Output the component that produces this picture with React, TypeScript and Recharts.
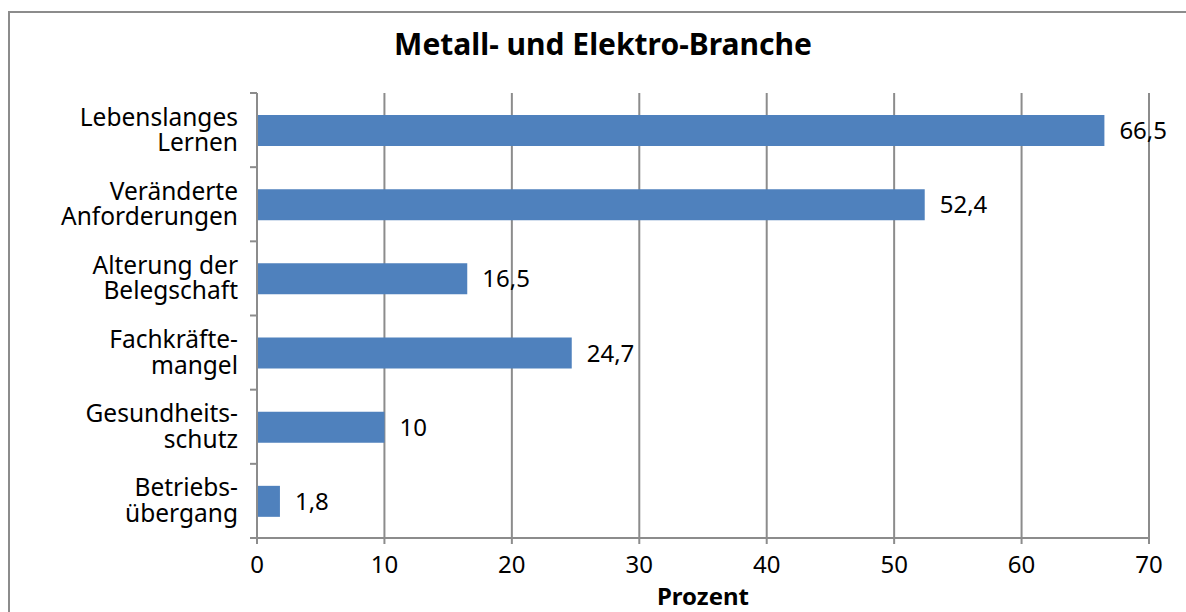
import { BarChart, Bar, XAxis, YAxis, CartesianGrid, LabelList } from "recharts";

const categories = [
  "Lebenslanges\nLernen",
  "Veränderte\nAnforderungen",
  "Alterung der\nBelegschaft",
  "Fachkräfte-\nmangel",
  "Gesundheits-\nschutz",
  "Betriebs-\nübergang",
];
const values = [66.5, 52.4, 16.5, 24.7, 10, 1.8];
const xTicks = [0, 10, 20, 30, 40, 50, 60, 70];

const data = categories.map((name, i) => ({ name, value: values[i] }));

const FONT = "'Noto Sans', 'Open Sans', sans-serif";
const GRID = "#8c8c8c";
const PLOT_TOP = 93;
const PLOT_BOTTOM = 538;
const BAND = (PLOT_BOTTOM - PLOT_TOP) / categories.length;

const CategoryTick = (props: any) => {
  const { x, y, payload, index } = props;
  const lines = String(payload.value).split("\n");
  const axisX = x + 8;
  return (
    <g>
      <line x1={axisX - 7} x2={axisX} y1={y - BAND / 2} y2={y - BAND / 2} stroke={GRID} strokeWidth={2} />
      {index === categories.length - 1 && (
        <line x1={axisX - 7} x2={axisX} y1={y + BAND / 2} y2={y + BAND / 2} stroke={GRID} strokeWidth={2} />
      )}
      <text x={x - 11} y={y} textAnchor="end" fontFamily={FONT} fontSize={24.5} fill="#000">
        {lines.map((l, i) => (
          <tspan key={i} x={x - 11} dy={i === 0 ? -4.5 : 25.5}>
            {l}
          </tspan>
        ))}
      </text>
    </g>
  );
};

const fmt = (v: any) => String(v).replace(".", ",");

export default function App() {
  return (
    <div style={{ position: "absolute", left: 0, top: 0, width: 1186, height: 612, background: "#fff", overflow: "hidden" }}>
      <div
        style={{
          position: "absolute",
          left: 8,
          top: 11,
          width: 1200,
          height: 620,
          border: "2px solid #8c8c8c",
          boxSizing: "border-box",
        }}
      />
      <div
        style={{
          position: "absolute",
          left: 0,
          top: 24,
          width: 1206,
          textAlign: "center",
          fontFamily: FONT,
          fontWeight: 700,
          fontSize: 30,
          lineHeight: "40px",
          color: "#000",
        }}
      >
        Metall- und Elektro-Branche
      </div>
      <div
        style={{
          position: "absolute",
          left: 0,
          top: 583,
          width: 1406,
          textAlign: "center",
          fontFamily: FONT,
          fontWeight: 700,
          fontSize: 24,
          lineHeight: "26px",
          color: "#000",
        }}
      >
        Prozent
      </div>
      <div style={{ position: "absolute", left: 0, top: 0 }}>
        <BarChart
          width={1186}
          height={612}
          data={data}
          layout="vertical"
          margin={{ top: PLOT_TOP, right: 37, bottom: 612 - PLOT_BOTTOM - 44, left: 0 }}
          barSize={31}
        >
          <CartesianGrid horizontal={false} vertical stroke={GRID} strokeWidth={2} />
          <XAxis
            type="number"
            domain={[0, 70]}
            ticks={xTicks}
            interval={0}
            height={44}
            axisLine={{ stroke: GRID, strokeWidth: 2 }}
            tickLine={{ stroke: GRID, strokeWidth: 2 }}
            tickSize={6}
            tickMargin={12}
            tick={{ fontFamily: FONT, fontSize: 24, fill: "#000" }}
          />
          <YAxis
            type="category"
            dataKey="name"
            width={257}
            axisLine={{ stroke: GRID, strokeWidth: 2 }}
            tickLine={false}
            tick={<CategoryTick />}
          />
          <Bar dataKey="value" fill="#4f81bd" isAnimationActive={false}>
            <LabelList
              dataKey="value"
              position="right"
              offset={15}
              formatter={fmt}
              style={{ fontFamily: FONT, fontSize: 24, fill: "#000" }}
            />
          </Bar>
        </BarChart>
      </div>
    </div>
  );
}
